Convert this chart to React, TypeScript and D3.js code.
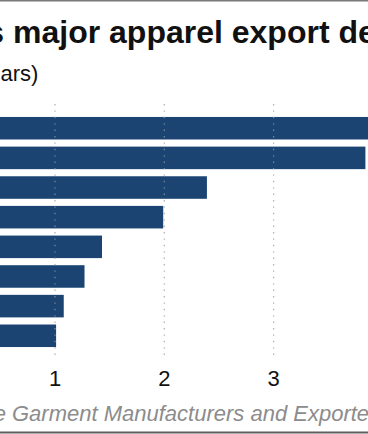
import React, {useEffect, useRef} from "react";
import * as d3 from "d3";

// destinations (labels fall outside the visible crop) and export values, billion USD
const countries = ["USA", "Germany", "UK", "France", "Spain", "Italy", "Canada", "Netherlands"];
const exportValues = [5.18, 3.84, 2.39, 1.99, 1.43, 1.27, 1.08, 1.01];
const tickValues = [1, 2, 3];

const titleText = "Bangladesh's major apparel export destinations";
const titlePrefix = "Bangladesh's ";
const subtitleText = "(In billion US dollars)";
const subtitlePrefix = "(In billion US doll";
const sourceText = "Source: BGMEA, the Garment Manufacturers and Exporters Association";
const sourcePrefix = "Source: BGMEA, the ";

const width = 368;
const height = 434;
const barColor = "#1b4473";
const font = "'Liberation Sans', Arial, Helvetica, sans-serif";

function App(): JSX.Element {
    const svgRef = useRef<SVGSVGElement>(null);

    useEffect(() => {
        if (!svgRef.current) return;
        const svg = d3.select(svgRef.current);
        svg.selectAll("*").remove();

        const x = d3.scaleLinear()
            .domain([0, 4])
            .range([-54.3, 382.9]);

        const y = d3.scaleBand()
            .domain(countries)
            .range([113.4, 350.6])
            .paddingInner(0.24)
            .paddingOuter(0.12);

        // place a long text so that the part after `prefix` starts at `visibleX`
        const placeText = (sel: d3.Selection<SVGTextElement, unknown, null, undefined>, prefix: string, visibleX: number) => {
            const node = sel.node();
            if (!node) return;
            const w = node.getSubStringLength(0, prefix.length);
            sel.attr("x", visibleX - w);
        };

        // top rule
        svg.append("line")
            .attr("x1", 0).attr("x2", width)
            .attr("y1", 0.75).attr("y2", 0.75)
            .attr("stroke", "#7a7a7a")
            .attr("stroke-width", 1.5);

        const title = svg.append("text")
            .attr("y", 43)
            .attr("font-family", font)
            .attr("font-weight", "bold")
            .attr("font-size", 32)
            .attr("fill", "#111")
            .text(titleText);
        placeText(title, titlePrefix, 13);

        const subtitle = svg.append("text")
            .attr("y", 81)
            .attr("font-family", font)
            .attr("font-size", 22)
            .attr("fill", "#111")
            .text(subtitleText);
        placeText(subtitle, subtitlePrefix, 0.5);

        // bars
        svg.append("g")
            .selectAll("rect")
            .data(exportValues)
            .enter()
            .append("rect")
            .attr("x", x(0))
            .attr("y", (d, i) => y(countries[i]) || 0)
            .attr("width", d => x(d) - x(0))
            .attr("height", y.bandwidth())
            .attr("fill", barColor);

        // dotted gridlines, drawn over the bars
        svg.append("g")
            .selectAll("line")
            .data(tickValues)
            .enter()
            .append("line")
            .attr("x1", d => x(d))
            .attr("x2", d => x(d))
            .attr("y1", 104)
            .attr("y2", 359)
            .attr("stroke", "#9a9a9a")
            .attr("stroke-opacity", 0.8)
            .attr("stroke-width", 1.2)
            .attr("stroke-dasharray", "1.4,5");

        // tick labels
        svg.append("g")
            .selectAll("text")
            .data(tickValues)
            .enter()
            .append("text")
            .attr("x", d => x(d))
            .attr("y", 386)
            .attr("text-anchor", "middle")
            .attr("font-family", font)
            .attr("font-size", 22)
            .attr("fill", "#111")
            .text(d => d3.format("d")(d));

        const source = svg.append("text")
            .attr("y", 421)
            .attr("font-family", font)
            .attr("font-style", "italic")
            .attr("font-size", 22)
            .attr("fill", "#8c8c8c")
            .text(sourceText);
        placeText(source, sourcePrefix, 12);

        // bottom rule
        svg.append("line")
            .attr("x1", 0).attr("x2", width)
            .attr("y1", 432.5).attr("y2", 432.5)
            .attr("stroke", "#5e5e5e")
            .attr("stroke-width", 2);
    }, []);

    return (
        <svg
            ref={svgRef}
            width={width}
            height={height}
            style={{position: "absolute", left: 0, top: 0, display: "block", background: "#fff"}}
        />
    );
}

export default App;
